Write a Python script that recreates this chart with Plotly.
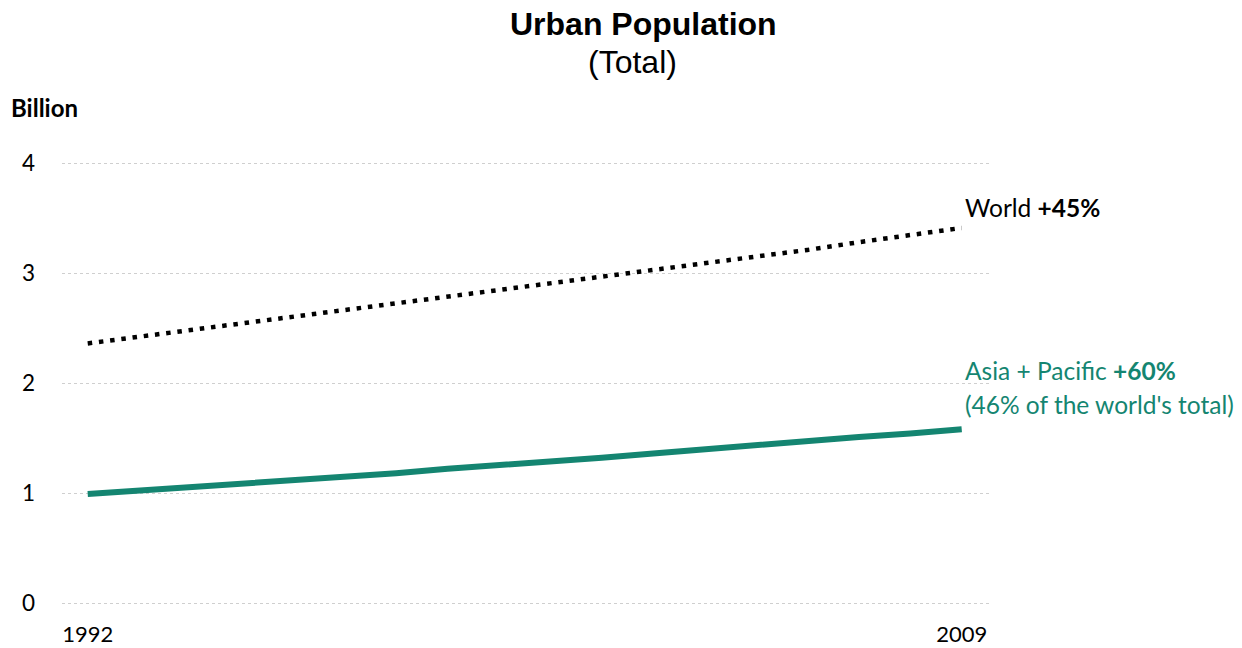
import plotly.graph_objects as go

# Urban population, billions, 1992-2009
YEARS = list(range(1992, 2010))
WORLD = [2.36, 2.42, 2.48, 2.54, 2.60, 2.66, 2.72, 2.78, 2.84,
         2.90, 2.96, 3.02, 3.08, 3.15, 3.21, 3.28, 3.34, 3.41]
ASIA_PACIFIC = [0.99, 1.02, 1.05, 1.08, 1.11, 1.15, 1.18, 1.22, 1.25,
                1.29, 1.32, 1.36, 1.40, 1.43, 1.47, 1.51, 1.54, 1.58]
Y_TICKS = [0, 1, 2, 3, 4]
X_TICKS = [1992, 2009]

TEAL = "#148571"
BODY_FONT = "Lato"

# plot-area geometry in pixels (used for paper-relative placement)
W, H = 1242, 648
L, R, T, B = 62, 252, 152, 34
PW, PH = W - L - R, H - T - B


def px_x(p):
    return (p - L) / PW


def px_y(p):
    return (H - B - p) / PH


fig = go.Figure()
fig.add_trace(go.Scatter(
    x=YEARS, y=WORLD, mode="lines", name="World",
    line=dict(color="black", width=4.5, dash="4.5px,6.8px"),
    hoverinfo="x+y",
))
fig.add_trace(go.Scatter(
    x=YEARS, y=ASIA_PACIFIC, mode="lines", name="Asia + Pacific",
    line=dict(color=TEAL, width=6),
    hoverinfo="x+y",
))

annotations = [
    dict(text="<b>Urban Population</b>", x=px_x(643), y=px_y(24),
         font=dict(family="Liberation Sans, Arial", size=32, color="black")),
    dict(text="(Total)", x=px_x(632), y=px_y(62),
         font=dict(family="Liberation Sans, Arial", size=32, color="black")),
    dict(text="<b>Billion</b>", x=px_x(9), y=px_y(108), xanchor="left",
         font=dict(family=BODY_FONT, size=24, color="black")),
    dict(text="World <b>+45%</b>", x=px_x(963), y=px_y(207), xanchor="left",
         font=dict(family=BODY_FONT, size=24.5, color="black")),
    dict(text="Asia + Pacific <b>+60%</b>", x=px_x(963), y=px_y(370), xanchor="left",
         font=dict(family=BODY_FONT, size=24.5, color=TEAL)),
    dict(text="(46% of the world's total)", x=px_x(963), y=px_y(404), xanchor="left",
         font=dict(family=BODY_FONT, size=24.5, color=TEAL)),
]
for a in annotations:
    a.update(xref="paper", yref="paper", showarrow=False,
             yanchor="middle", xanchor=a.get("xanchor", "center"))

fig.update_layout(
    width=W, height=H,
    margin=dict(l=L, r=R, t=T, b=B, pad=0, autoexpand=False),
    paper_bgcolor="white", plot_bgcolor="white",
    showlegend=False,
    annotations=annotations,
    font=dict(family=BODY_FONT, size=22, color="black"),
    xaxis=dict(
        range=[1991.5, 2009.55], tickvals=X_TICKS, ticktext=[str(v) for v in X_TICKS],
        showgrid=False, zeroline=False, showline=False, ticks="",
        automargin=False,
        ticklabelstandoff=5, tickfont=dict(family=BODY_FONT, size=22),
    ),
    yaxis=dict(
        range=[-0.1, 4.1], tickvals=Y_TICKS, showgrid=True,
        gridcolor="#cfcfcf", griddash="dot", gridwidth=1,
        zeroline=False, showline=False, ticks="", automargin=False,
        ticklabelstandoff=26, tickfont=dict(family=BODY_FONT, size=22.5),
    ),
)

fig.write_html("out.html")
